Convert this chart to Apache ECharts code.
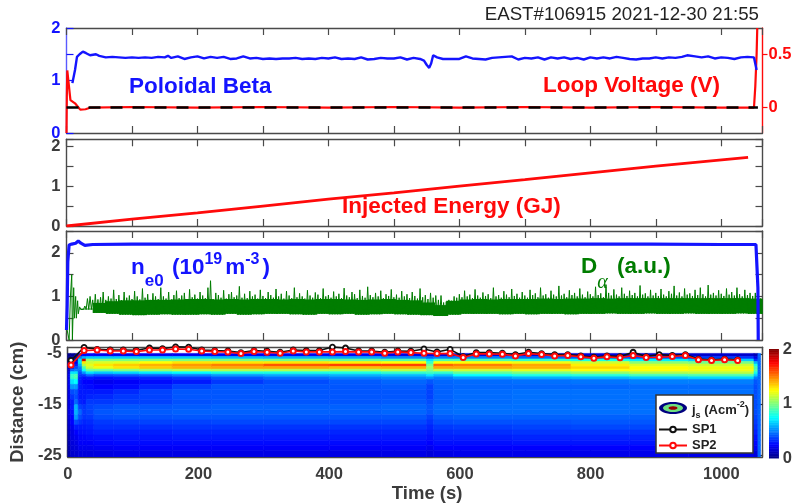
<!DOCTYPE html>
<html><head><meta charset="utf-8">
<style>html,body{margin:0;padding:0;background:#fff}#c{width:795px;height:504px;filter:blur(.4px)}</style>
<script src="https://cdn.jsdelivr.net/npm/echarts@6/dist/echarts.min.js"></script>
</head><body><div id="c"></div>
<script>
const titleText = 'EAST#106915 2021-12-30 21:55';
const timeTicks = [0,200,400,600,800,1000];
const betaT = [9,11,13,16,20,25,30,36,45,50,60,70,80,90,100,110,120,130,140,150,155,160,170,180,190,200,210,220,230,240,250,260,270,280,290,300,310,320,330,340,350,360,370,380,390,400,410,420,430,440,450,460,470,480,490,500,510,520,530,540,546,550,554,557,560,566,575,590,600,610,620,630,640,650,660,670,680,690,700,710,720,730,740,750,760,770,780,790,800,810,820,830,840,850,860,870,880,890,900,910,920,930,940,948,960,970,980,990,1000,1010,1020,1030,1040,1050,1052,1054];
const betaV = [.95,.95,1.2,1.45,1.5,1.55,1.52,1.48,1.5,1.47,1.44,1.45,1.44,1.43,1.44,1.43,1.44,1.43,1.45,1.44,1.47,1.43,1.46,1.41,1.44,1.46,1.42,1.45,1.43,1.45,1.41,1.42,1.46,1.42,1.43,1.41,1.42,1.41,1.42,1.42,1.43,1.41,1.42,1.41,1.43,1.42,1.44,1.41,1.42,1.41,1.44,1.40,1.41,1.43,1.42,1.42,1.44,1.40,1.43,1.41,1.38,1.30,1.24,1.33,1.48,1.44,1.41,1.41,1.41,1.46,1.42,1.41,1.40,1.43,1.44,1.45,1.46,1.40,1.43,1.42,1.44,1.40,1.44,1.42,1.44,1.41,1.43,1.40,1.44,1.42,1.44,1.42,1.45,1.43,1.41,1.40,1.42,1.42,1.44,1.42,1.44,1.43,1.45,1.48,1.46,1.44,1.46,1.42,1.44,1.43,1.41,1.44,1.45,1.44,1.42,1.2];
const voltT = [0,.5,1.2,3,6,13,21,29,37,100,200,300,400,500,600,700,800,900,1000,1050,1052,1054,1055];
const voltV = [-.24,.1,.35,.35,.07,.04,-.02,-.016,0,.005,0,.005,0,.005,0,.005,0,.005,0,0,.2,.5,.75];
const refT = [0,1056];
const refV = [0,0];
const energyT = [0,100,200,300,400,500,600,700,800,900,1041];
const energyV = [0,.17,.33,.5,.67,.83,1.0,1.16,1.33,1.5,1.72];
const neT = [0,1,2,4,8,14,18,22,28,40,100,200,300,400,500,600,700,800,885,888,892,1000,1053,1055,1056,1056.5];
const neV = [.23,.8,1.8,2.18,2.2,2.22,2.27,2.22,2.17,2.19,2.2,2.2,2.2,2.2,2.2,2.2,2.2,2.2,2.2,2.24,2.2,2.19,2.19,2.15,1.2,0];
const dAlphaStart = [[0,.3],[4,0],[6,1],[8,1.5],[9,0],[11,1.2],[12,.5],[14,1],[15,.5],[17,.9],[18,.6]];
const dAlphaHi = [.76,.72,.78,.95,1.0,.92,1.05,.93,.98,1.1,.92,1.0,.95,1.15,.94,1.03,.91,1.1,.97,1.02,
.94,1.12,1.0,.93,1.18,.97,1.05,.92,1.07,1.0,.94,1.2,1.0,.95,1.1,.93,1.03,1.13,.96,1.02,1.08,.94,1.16,.98,1.04,
.95,1.1,1.02,.96,1.2,1.36,.94,1.08,1.03,.97,1.14,.95,1.05,1.1,.98,1.02,1.23,.97,1.06,.96,1.12,1.0,1.04,.95,1.15,
1.01,.96,1.1,1.03,.97,1.17,1.0,1.06,.95,1.12,1.02,.96,1.2,.98,1.07,1.0,.95,1.14,1.02,.97,1.09,1.04,.96,1.18,1.0,
1.03,.97,1.11,1.0,1.06,.96,1.19,1.02,.98,1.1,1.05,.96,1.15,1.01,.97,1.22,1.03,.98,1.08,1.0,1.13,.96,1.05,1.01,1.16,
.98,1.04,.97,1.12,1.0,1.05,.96,1.1,1.01,.95,1.18,.98,1.03,.94,1.08,.97,1.02,.92,1.02,.86,.88,.92,.9,1.0,.97,
1.05,.98,1.13,1.0,1.04,.96,1.16,1.02,.97,1.09,1.01,1.05,.96,1.2,1.0,1.03,.97,1.12,1.04,.98,1.17,1.01,1.06,.97,1.1,
1.02,.97,1.15,1.03,1.07,.98,1.2,1.02,1.05,.97,1.13,1.04,1.0,1.24,1.02,1.06,.98,1.14,1.03,1.08,1.0,1.18,1.04,.98,1.11,
1.05,1.0,1.22,1.03,1.07,.98,1.27,1.08,1.02,1.16,1.04,1.0,1.2,1.06,1.01,1.13,1.03,1.08,1.0,1.25,1.04,1.07,1.0,1.15,1.02,
1.08,1.01,1.17,1.04,1.0,1.12,1.06,1.24,1.02,1.09,1.0,1.18,1.04,1.07,1.01,1.15,1.03,1.2,1.05,1.0,1.26,1.04,1.08,1.02,1.14,
1.06,1.01,1.18,1.04,1.1,1.02,1.2,1.05,1.0,1.15,1.03,1.08,1.01,1.08,.98,.95];
const dAlphaLo = [.6,.7,.62,.6,.58,.57,.58,.59,.58,.58,.59,.58,.6,.58,.59,.6,.6,.59,.58,.6,.59,.6,.58,.59,.6,.59,.58,.57,.55,.58,.6,.6,.6,.59,.6,.59,.6,.6,.59,.6,.6,.61,.6,.6,.61,.6,.6,.61,.6,.6,.6,.61,.6,.6];
const dAlphaCore = [.6,.72,.85,.89,.91,.91,.92,.92,.93,.94,.94,.93,.94,.93,.94,.94,.93,.94,.93,.94,.94,.93,.92,.93,.94,.92,.91,.86,.8,.9,.93,.94,.93,.94,.94,.94,.95,.94,.95,.95,.96,.95,.96,.96,.96,.96,.96,.96,.96,.96,.96,.96,.95,.93];
const spT = [5,25,45,65,85,105,125,145,165,185,205,225,245,265,285,305,325,345,365,385,405,425,445,465,485,505,525,545,565,585,605,625,645,665,685,705,725,745,765,785,805,825,845,865,885,905,925,945,965,985,1005,1025];
const sp1 = [-6.29,-3.71,-4.10,-4.23,-4.23,-4.29,-3.84,-3.97,-3.6,-3.65,-4.23,-4.35,-4.42,-4.74,-4.35,-4.48,-4.68,-4.23,-4.35,-4.35,-3.65,-3.84,-4.42,-4.42,-4.68,-4.42,-4.48,-4.03,-4.61,-4.10,-5.52,-4.74,-4.74,-4.87,-5.13,-4.68,-4.94,-5.13,-5.13,-5.39,-5.65,-5.39,-5.52,-4.68,-5.52,-5.13,-5.32,-5.13,-6.03,-6.16,-6.03,-6.16];
const sp2 = [-7.19,-4.35,-4.23,-4.42,-4.42,-4.55,-4.23,-4.23,-4.03,-4.10,-4.42,-4.55,-4.61,-4.94,-4.55,-4.68,-4.87,-4.42,-4.61,-4.61,-4.61,-4.55,-4.61,-4.61,-4.87,-4.61,-4.74,-4.87,-4.94,-4.94,-5.71,-5.0,-5.0,-5.06,-5.39,-4.94,-5.13,-5.39,-5.32,-5.58,-5.84,-5.58,-5.77,-5.32,-5.71,-5.65,-5.52,-5.32,-6.16,-6.29,-6.16,-6.29];
const heatTimeEdges = [0,4,10,16,22,28,40,70,110,160,220,300,400,480,549,560,590,680,770,860,950,1050,1056,1060];
const heatDistEdges = [-4.9,-5.5,-6,-6.5,-7,-7.5,-8,-8.5,-9,-9.5,-10,-11,-12,-13,-14,-15,-16,-17,-18,-19,-20,-21,-22,-23,-24,-25.33];
const heatColumns = [
[.03,.03,.04,.05,.08,.12,.16,.2,.22,.22,.22,.22,.2,.2,.2,.2,.2,.18,.16,.14,.12,.1,.1,.08,.08],
[.05,.05,.1,.1,.2,.3,.45,.7,.85,.85,.7,.55,.4,.35,.3,.3,.28,.25,.25,.22,.2,.2,.18,.17,.15],
[.05,.08,.12,.2,.3,.4,.5,.7,.9,.9,.75,.55,.42,.4,.45,.6,.6,.55,.4,.3,.25,.22,.2,.18,.16],
[.2,.5,.7,.7,.6,.5,.45,.4,.35,.32,.3,.3,.3,.3,.32,.38,.45,.4,.35,.3,.28,.26,.24,.22,.18],
[.25,.6,1.85,1.3,1.1,.9,.75,.55,.35,.28,.25,.28,.3,.3,.3,.35,.36,.35,.32,.3,.28,.26,.24,.22,.18],
[.25,.65,1.05,1.15,1.2,1.15,.95,.7,.45,.3,.25,.27,.3,.32,.36,.38,.38,.36,.33,.31,.29,.27,.24,.22,.18],
[.22,.65,1.0,1.18,1.3,1.22,.95,.65,.4,.28,.22,.25,.3,.33,.36,.4,.42,.4,.36,.34,.31,.28,.26,.23,.19],
[.22,.65,1.0,1.2,1.35,1.3,1.0,.68,.42,.3,.24,.27,.33,.36,.37,.42,.43,.41,.37,.34,.31,.29,.27,.24,.2],
[.22,.65,1.0,1.25,1.4,1.35,1.05,.72,.45,.32,.27,.32,.38,.38,.38,.42,.43,.41,.38,.34,.31,.29,.27,.24,.2],
[.22,.65,1.0,1.3,1.45,1.4,1.1,.75,.5,.36,.3,.38,.42,.42,.41,.43,.44,.42,.38,.35,.32,.3,.27,.24,.2],
[.22,.62,1.0,1.3,1.5,1.42,1.1,.8,.55,.42,.36,.42,.42,.42,.42,.44,.44,.42,.39,.35,.32,.3,.27,.24,.2],
[.22,.6,.98,1.3,1.58,1.42,1.1,.8,.58,.46,.4,.42,.42,.42,.42,.44,.44,.42,.39,.35,.32,.3,.27,.24,.2],
[.22,.58,.95,1.28,1.62,1.38,1.08,.8,.6,.5,.43,.42,.42,.42,.42,.44,.44,.42,.39,.35,.32,.3,.27,.24,.2],
[.2,.52,.92,1.25,1.62,1.4,1.12,.85,.62,.52,.45,.43,.42,.42,.43,.45,.45,.42,.39,.35,.32,.3,.27,.24,.2],
[.2,.45,.7,.85,.98,1.05,1.0,.88,.7,.55,.42,.38,.38,.38,.4,.42,.42,.38,.35,.32,.3,.28,.25,.22,.18],
[.2,.5,.9,1.25,1.55,1.42,1.12,.85,.62,.5,.45,.44,.44,.44,.44,.46,.46,.43,.4,.36,.33,.31,.28,.25,.2],
[.2,.5,.9,1.25,1.5,1.42,1.15,.95,.75,.56,.46,.45,.46,.46,.46,.47,.47,.44,.41,.37,.34,.31,.28,.25,.21],
[.2,.45,.85,1.22,1.42,1.4,1.2,1.0,.8,.6,.47,.45,.47,.47,.47,.47,.47,.44,.41,.38,.35,.32,.29,.25,.21],
[.18,.42,.8,1.15,1.28,1.33,1.25,1.05,.82,.62,.48,.45,.47,.47,.47,.47,.47,.44,.42,.39,.35,.32,.29,.25,.21],
[.16,.4,.72,1.02,1.18,1.25,1.25,1.1,.88,.65,.5,.46,.47,.47,.47,.47,.47,.44,.42,.39,.35,.32,.29,.25,.21],
[.15,.35,.65,.98,1.15,1.22,1.22,1.12,.9,.68,.5,.46,.47,.47,.47,.47,.47,.44,.42,.39,.35,.32,.29,.25,.21],
[.1,.2,.35,.6,.8,.9,.9,.8,.65,.5,.42,.4,.4,.4,.4,.4,.4,.38,.36,.34,.31,.28,.26,.23,.18],
[.45,.45,.45,.45,.45,.45,.45,.45,.45,.45,.45,.45,.45,.45,.45,.45,.45,.45,.45,.45,.45,.45,.45,.45,.45]
];
const colorbarSteps = 64;
const jet = ['#00007f','#0000ff','#007fff','#00ffff','#7fff7f','#ffff00','#ff7f00','#ff0000','#7f0000'];

const zip = (a,b)=>a.map((v,i)=>[v,b[i]]);
const dAlpha = dAlphaStart.slice();
dAlphaHi.forEach((hi,i)=>{const t=20+i*4; dAlpha.push([t,hi]); dAlpha.push([t+2,dAlphaLo[Math.min(dAlphaLo.length-1,Math.floor(t/20))]]);});
const dAlphaBand = dAlphaCore.map((hi,k)=>[Math.max(20,k*20),Math.min(1063,(k+1)*20+3),dAlphaLo[k],hi]).filter(d=>d[1]>d[0]);
const heatData = [];
heatColumns.forEach((col,i)=>col.forEach((v,j)=>heatData.push([heatTimeEdges[i],heatTimeEdges[i+1],heatDistEdges[j],heatDistEdges[j+1],v])));
const colorbarData = Array.from({length:colorbarSteps},(_,i)=>[0,1,2*i/colorbarSteps,2*(i+1)/colorbarSteps,2*(i+.5)/colorbarSteps]);

const FONT='"Liberation Sans",Arial,sans-serif';
const DARK='#3c3c3c', FRAME='#4a4a4a', BLUE='#1414ff', RED='#ff0a0a', GREEN='#007d00';
const XMAX=1063;
const L=66.5,R=32.5;
const grids=[{left:L,right:R,top:28,height:105},{left:L,right:R,top:139.3,height:86.7},{left:L,right:R,top:231,height:109},{left:L,right:R,top:347.3,height:111.7},{left:769,width:13.5,top:349,height:109.5}];
const lineOf=c=>({show:true,onZero:false,lineStyle:{color:c,width:1.4}});
const tick=(c,inside=true,len=7)=>({show:true,inside,length:len,lineStyle:{color:c,width:1.2}});
const lbl=(c)=>({color:c,fontFamily:FONT,fontWeight:'bold',fontSize:16.5,margin:6});
const xAxes=[];
[0,1,2,3].forEach(i=>{
  xAxes.push({gridIndex:i,type:'value',min:0,max:XMAX,interval:100,position:'bottom',axisLine:lineOf(FRAME),axisTick:tick(FRAME),splitLine:{show:false},
    axisLabel:i===3?{...lbl(DARK),customValues:timeTicks,margin:9,formatter:v=>String(v)}:{show:false},
    ...(i===3?{name:'Time (s)',nameLocation:'middle',nameGap:24,nameTextStyle:{color:DARK,fontFamily:FONT,fontWeight:'bold',fontSize:18.5,padding:[0,0,0,24]}}:{})});
});
[0,1,2,3].forEach(i=>{
  xAxes.push({gridIndex:i,type:'value',min:0,max:XMAX,interval:100,position:'top',axisLine:lineOf(FRAME),axisTick:tick(FRAME),axisLabel:{show:false},splitLine:{show:false}});
});
xAxes.push({gridIndex:4,type:'value',min:0,max:1,show:false});
const yAxes=[
 {gridIndex:0,type:'value',min:0,max:2,interval:.5,position:'left',axisLine:lineOf('#5a5aff'),axisTick:tick(BLUE),splitLine:{show:false},axisLabel:{...lbl(BLUE),customValues:[0,1,2]}},
 {gridIndex:1,type:'value',min:0,max:2.17,interval:.5,position:'left',axisLine:lineOf(FRAME),axisTick:tick(FRAME),splitLine:{show:false},axisLabel:{...lbl(DARK),customValues:[0,1,2]}},
 {gridIndex:2,type:'value',min:0,max:2.5,interval:.5,position:'left',axisLine:lineOf(FRAME),axisTick:tick(FRAME),splitLine:{show:false},axisLabel:{...lbl(DARK),customValues:[0,1,2]}},
 {gridIndex:3,type:'value',min:-25.33,max:-3.7,position:'left',axisLine:lineOf(FRAME),axisTick:{...tick(FRAME),customValues:[-25,-15,-5]},splitLine:{show:false},axisLabel:{...lbl(DARK),customValues:[-25,-15,-5]},
   name:'Distance (cm)',nameLocation:'middle',nameGap:26,nameTextStyle:{color:DARK,fontFamily:FONT,fontWeight:'bold',fontSize:18.5}},
 {gridIndex:0,type:'value',min:-.24,max:.75,position:'right',axisLine:lineOf(RED),axisTick:{...tick(RED,false,5),customValues:[0,.5]},splitLine:{show:false},axisLabel:{...lbl(RED),customValues:[0,.5]}},
 {gridIndex:1,type:'value',min:0,max:2.17,interval:.5,position:'right',axisLine:lineOf(FRAME),axisTick:tick(FRAME),axisLabel:{show:false},splitLine:{show:false}},
 {gridIndex:2,type:'value',min:0,max:2.5,interval:.5,position:'right',axisLine:lineOf(FRAME),axisTick:tick(FRAME),axisLabel:{show:false},splitLine:{show:false}},
 {gridIndex:3,type:'value',min:-25.33,max:-3.7,position:'right',axisLine:lineOf(FRAME),axisTick:{...tick('#333'),customValues:[-25,-15,-5]},axisLabel:{show:false},splitLine:{show:false}},
 {gridIndex:4,type:'value',min:0,max:2,interval:1,position:'right',axisLine:{show:false},axisTick:{show:false},splitLine:{show:false},axisLabel:{...lbl(DARK),margin:4}}
];
const ln=(name,x,y,data,color,width,extra={})=>({type:'line',name,xAxisIndex:x,yAxisIndex:y,data,showSymbol:false,symbol:'none',smooth:false,clip:true,lineStyle:{color,width},itemStyle:{color},silent:true,animation:false,...extra});
const bigText=(text,x,y,fill)=>({type:'text',x,y,z:50,style:{text,fill,font:`bold 22.5px ${FONT}`,textAlign:'left',textVerticalAlign:'middle'}});
const cellItem=(p,api)=>{const a=api.coord([api.value(0),api.value(2)]),b=api.coord([api.value(1),api.value(3)]);const c=api.visual('color');
  return {type:'rect',shape:{x:a[0],y:a[1],width:b[0]-a[0],height:b[1]-a[1]},style:{fill:c,stroke:c,lineWidth:.6}};};
const option={
  animation:false,backgroundColor:'#fff',
  grid:grids,xAxis:xAxes,yAxis:yAxes,
  visualMap:{type:'continuous',show:false,seriesIndex:[0,1],dimension:4,min:0,max:2,inRange:{color:jet}},
  legend:{show:true,left:658,top:400,orient:'vertical',itemWidth:28,itemHeight:7,itemGap:3,padding:0,z:200,selectedMode:false,
    textStyle:{color:'#222',fontFamily:FONT,fontWeight:'bold',fontSize:13,
      rich:{a:{color:'#222',fontFamily:FONT,fontWeight:'bold',fontSize:13,lineHeight:20},s:{color:'#222',fontFamily:FONT,fontWeight:'bold',fontSize:9,verticalAlign:'bottom',lineHeight:13},u:{color:'#222',fontFamily:FONT,fontWeight:'bold',fontSize:9,verticalAlign:'top',lineHeight:15}}},
    formatter:n=>n==='js'?'{a|j}{s|s}{a| (Acm}{u|-2}{a|)}':n,
    data:[{name:'js',icon:'circle',itemStyle:{color:'#00007f'}},{name:'SP1'},{name:'SP2'}]},
  graphic:[
    {type:'text',x:759,y:15,z:50,style:{text:titleText,fill:'#222',font:`18.7px ${FONT}`,textAlign:'right',textVerticalAlign:'middle'}},
    bigText('Poloidal Beta',129,87,BLUE),
    bigText('Loop Voltage (V)',543,86,RED),
    bigText('Injected Energy (GJ)',342,207,RED),
    {type:'text',x:131,y:268,z:50,style:{text:'{n|n}{b|e0}{k| (10}{p|19}{m|m}{p|-3}{m|)}',textAlign:'left',textVerticalAlign:'middle',fill:BLUE,
      rich:{n:{fill:BLUE,font:`bold 22.5px ${FONT}`,lineHeight:44},k:{fill:BLUE,font:`bold 22.5px ${FONT}`,lineHeight:44,padding:[0,0,0,2]},m:{fill:BLUE,font:`bold 22.5px ${FONT}`,lineHeight:44,padding:[0,0,0,3]},b:{fill:BLUE,font:`bold 17px ${FONT}`,verticalAlign:'bottom',lineHeight:15},p:{fill:BLUE,font:`bold 16px ${FONT}`,verticalAlign:'top',lineHeight:18,padding:[6,0,0,0]}}}},
    {type:'text',x:581,y:267,z:50,style:{text:'{n|D}{b|α}{k| (a.u.)}',textAlign:'left',textVerticalAlign:'middle',fill:GREEN,
      rich:{n:{fill:GREEN,font:`bold 22.5px ${FONT}`,lineHeight:52},k:{fill:GREEN,font:`bold 22.5px ${FONT}`,lineHeight:52,padding:[0,0,0,3]},b:{fill:GREEN,font:`italic 20px "Liberation Serif",serif`,verticalAlign:'bottom',lineHeight:13}}}},
    {type:'rect',shape:{x:656,y:395,width:97,height:58},z:100,style:{fill:'#fff',stroke:'#333',lineWidth:1.5}},
    {type:'ellipse',shape:{cx:673,cy:408,rx:14,ry:6},z:299,style:{fill:'#00007f'}},
    {type:'ellipse',shape:{cx:673,cy:408,rx:10,ry:4},z:300,style:{fill:'#6fe07f'}},
    {type:'ellipse',shape:{cx:673,cy:408,rx:4.5,ry:1.8},z:301,style:{fill:'#9a0000'}}
  ],
  series:[
    {type:'custom',name:'js',xAxisIndex:3,yAxisIndex:3,data:heatData,silent:true,clip:true,z:1,encode:{x:[0,1],y:[2,3]},renderItem:cellItem},
    {type:'custom',name:'colorbar',xAxisIndex:8,yAxisIndex:8,data:colorbarData,silent:true,clip:true,z:1,encode:{x:[0,1],y:[2,3]},renderItem:cellItem},
    ln('volt',4,4,zip(voltT,voltV),RED,2.2),
    ln('ref',4,4,zip(refT,refV),'#000',2.6,{lineStyle:{color:'#000',width:2.6,type:[12,10]}}),
    ln('beta',0,0,zip(betaT,betaV),BLUE,2.4),
    ln('energy',1,1,zip(energyT,energyV),RED,2.8),
    {type:'custom',name:'dalphaCore',xAxisIndex:2,yAxisIndex:2,data:dAlphaBand,silent:true,clip:true,encode:{x:[0,1],y:[2,3]},
      renderItem:(p,api)=>{const a=api.coord([api.value(0),api.value(3)]),b=api.coord([api.value(1),api.value(2)]);return {type:'rect',shape:{x:a[0],y:a[1],width:b[0]-a[0],height:b[1]-a[1]},style:{fill:GREEN}};}},
    ln('dalpha',2,2,dAlpha,GREEN,1),
    ln('ne',2,2,zip(neT,neV),BLUE,3.2),
    ln('SP1',3,3,zip(spT,sp1),'#111',1.6,{showSymbol:true,symbol:'circle',symbolSize:5,clip:false,z:5,itemStyle:{color:'#fff',borderColor:'#111',borderWidth:1.8}}),
    ln('SP2',3,3,zip(spT,sp2),RED,1.6,{showSymbol:true,symbol:'circle',symbolSize:5,clip:false,z:6,itemStyle:{color:'#fff',borderColor:RED,borderWidth:2}})
  ]
};
const chart=echarts.init(document.getElementById('c'),null,{renderer:'canvas'});
chart.setOption(option);
</script></body></html>
